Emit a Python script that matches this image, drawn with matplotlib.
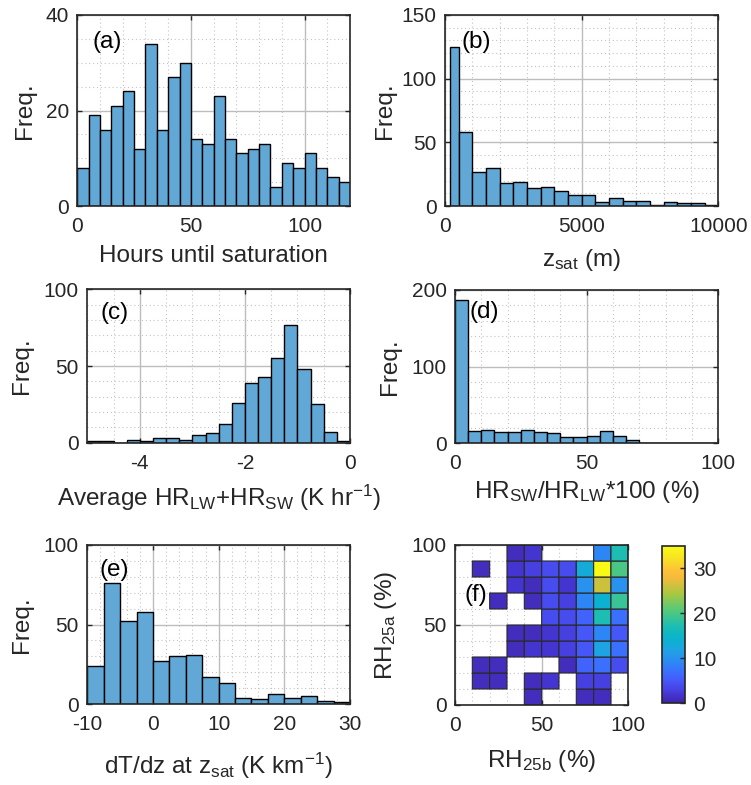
import numpy as np
import matplotlib
matplotlib.use("Agg")
import matplotlib.pyplot as plt
from matplotlib.colors import LinearSegmentedColormap
from matplotlib.ticker import MultipleLocator

plt.rcParams['font.family'] = ['Liberation Sans', 'DejaVu Sans']
plt.rcParams['mathtext.fontset'] = 'custom'
plt.rcParams['mathtext.rm'] = 'Liberation Sans'
plt.rcParams['mathtext.it'] = 'Liberation Sans:italic'
plt.rcParams['mathtext.bf'] = 'Liberation Sans:bold'
plt.rcParams['axes.unicode_minus'] = False

# ---------------- data ----------------
# (a) hours until saturation
hours_edges = np.arange(0, 121, 5)
hours_counts = [8, 19, 16, 21, 24, 12, 34, 16, 27, 30, 14, 13,
                23, 14, 11, 12, 13, 4, 9, 8, 11, 8, 6, 5]

# (b) saturation height (m)
zsat_edges = [200] + list(range(500, 10001, 500))
zsat_counts = [125, 58, 27, 30, 18, 19, 14, 15, 12, 9, 9, 3,
               6, 4, 4, 1, 3, 2, 2, 1]

# (c) average radiative heating rate (K/hr)
hr_edges = np.arange(-5, 0.001, 0.25)
hr_counts = [1, 1, 0, 2, 1, 3, 3, 2, 5, 6, 12, 26, 39, 43, 55,
             77, 48, 25, 7, 1]

# (d) SW / LW heating ratio (%)
ratio_edges = np.arange(0, 101, 5)
ratio_counts = [187, 16, 17, 15, 15, 17, 15, 14, 8, 8, 10, 16,
                10, 4, 1, 1, 1, 1, 1, 1]

# (e) lapse rate at saturation height (K/km)
dtdz_edges = np.arange(-10, 30.001, 2.5)
dtdz_counts = [24, 76, 52, 58, 27, 30, 31, 17, 13, 4, 3, 6, 4, 5, 2, 1]

# (f) joint RH histogram: rows = RH_25a bins (0-10 ... 90-100), cols = RH_25b bins
rh_edges = np.arange(0, 101, 10)
rh_counts = np.array([
    [0, 0, 0, 0, 1, 0, 0, 1, 1, 0],
    [0, 1, 1, 0, 1, 2, 0, 3, 3, 0],
    [0, 1, 1, 0, 0, 0, 1, 6, 7, 4],
    [0, 0, 0, 1, 2, 2, 3, 5, 12, 7],
    [0, 0, 0, 1, 1, 2, 3, 5, 9, 5],
    [0, 0, 0, 0, 0, 4, 4, 6, 17, 7],
    [0, 0, 1, 0, 1, 4, 3, 9, 14, 19],
    [0, 0, 0, 2, 1, 4, 2, 10, 26, 10],
    [0, 1, 0, 2, 3, 4, 4, 13, 35, 20],
    [0, 0, 0, 1, 2, 0, 0, 0, 9, 17],
], dtype=float)

# MATLAB-style parula colormap
parula_pts = [
    (0.00, (0.2422, 0.1504, 0.6603)),
    (0.05, (0.2691, 0.2011, 0.8049)),
    (0.10, (0.2803, 0.2782, 0.9221)),
    (0.15, (0.2720, 0.3570, 0.9800)),
    (0.20, (0.2305, 0.4388, 0.9976)),
    (0.25, (0.1801, 0.5177, 0.9650)),
    (0.30, (0.1540, 0.5902, 0.9218)),
    (0.35, (0.1085, 0.6546, 0.8767)),
    (0.40, (0.0487, 0.6936, 0.8185)),
    (0.45, (0.0600, 0.7228, 0.7565)),
    (0.50, (0.1340, 0.7472, 0.6805)),
    (0.60, (0.3500, 0.7900, 0.4600)),
    (0.70, (0.6700, 0.7800, 0.2500)),
    (0.80, (0.9600, 0.7300, 0.2300)),
    (0.85, (0.9950, 0.7600, 0.2200)),
    (0.90, (0.9700, 0.8500, 0.1600)),
    (1.00, (0.9769, 0.9839, 0.0805)),
]
parula = LinearSegmentedColormap.from_list('parula', parula_pts)

BAR = '#62a8d6'
TXT = '#262626'
W, H = 751, 785
TICK_FS = 15
LAB_FS = 17.5


def place(l, t, r, b):
    return [l / W, 1 - b / H, (r - l) / W, (b - t) / H]


def style(ax, xmaj, xmin, ymaj, ymin):
    ax.set_axisbelow(True)
    ax.xaxis.set_major_locator(MultipleLocator(xmaj))
    ax.xaxis.set_minor_locator(MultipleLocator(xmin))
    ax.yaxis.set_major_locator(MultipleLocator(ymaj))
    ax.yaxis.set_minor_locator(MultipleLocator(ymin))
    ax.grid(True, which='major', color='#bdbdbd', lw=1.0, ls='-')
    ax.grid(True, which='minor', color='#c4c4c4', lw=0.8, ls=(0, (1, 2.5)))
    ax.tick_params(which='major', direction='in', length=3.5, width=1.0,
                   top=True, right=True, labelsize=TICK_FS, colors=TXT)
    ax.tick_params(axis='x', which='major', pad=8)
    ax.tick_params(axis='y', which='major', pad=6)
    ax.tick_params(which='minor', length=0)
    for s in ax.spines.values():
        s.set_color(TXT)
        s.set_linewidth(1.2)


def labels(ax, xl, yl, xy, yx, letter, lx, ly):
    ax.set_xlabel(xl, fontsize=LAB_FS, color=TXT)
    ax.set_ylabel(yl, fontsize=LAB_FS, color=TXT)
    ax.xaxis.set_label_coords(0.5, xy)
    ax.yaxis.set_label_coords(yx, 0.5)
    ax.xaxis.label.set_va('center')
    ax.yaxis.label.set_va('center')
    ax.text(lx, ly, letter, transform=ax.transAxes, fontsize=LAB_FS,
            ha='left', va='center', color='black')


def hist(ax, edges, counts):
    edges = np.asarray(edges, dtype=float)
    ax.bar(edges[:-1], counts, width=np.diff(edges), align='edge',
           color=BAR, edgecolor='black', linewidth=1.0, zorder=2)


fig = plt.figure(figsize=(W / 100, H / 100), dpi=100)

# (a)
ax = fig.add_axes(place(77.3, 15, 350, 206))
hist(ax, hours_edges, hours_counts)
ax.set_xlim(0, 120)
ax.set_ylim(0, 40)
style(ax, 50, 10, 20, 5)
labels(ax, 'Hours until saturation', 'Freq.', -0.26, -0.19, '(a)', 0.055, 0.86)

# (b)
ax = fig.add_axes(place(445, 15, 718.3, 206))
hist(ax, zsat_edges, zsat_counts)
ax.set_xlim(0, 10000)
ax.set_ylim(0, 150)
style(ax, 5000, 1000, 50, 10)
labels(ax, r'z$_{\mathregular{sat}}$ (m)', 'Freq.', -0.285, -0.22, '(b)', 0.06, 0.857)

# (c)
ax = fig.add_axes(place(87.3, 289.3, 350, 442.7))
hist(ax, hr_edges, hr_counts)
ax.set_xlim(-5, 0)
ax.set_ylim(0, 100)
style(ax, 2, 0.5, 50, 10)
labels(ax, r'Average HR$_{\mathregular{LW}}$+HR$_{\mathregular{SW}}$ (K hr$^{\mathregular{-1}}$)',
       'Freq.', -0.36, -0.25, '(c)', 0.05, 0.845)

# (d)
ax = fig.add_axes(place(455, 290, 718.3, 443.3))
hist(ax, ratio_edges, ratio_counts)
ax.set_xlim(0, 100)
ax.set_ylim(0, 200)
style(ax, 50, 10, 100, 20)
labels(ax, r'HR$_{\mathregular{SW}}$/HR$_{\mathregular{LW}}$*100 (%)',
       'Freq.', -0.32, -0.247, '(d)', 0.055, 0.858)

# (e)
ax = fig.add_axes(place(87.3, 545, 350, 704))
hist(ax, dtdz_edges, dtdz_counts)
ax.set_xlim(-10, 30)
ax.set_ylim(0, 100)
style(ax, 10, 2, 50, 10)
labels(ax, r'dT/dz at z$_{\mathregular{sat}}$ (K km$^{\mathregular{-1}}$)',
       'Freq.', -0.39, -0.25, '(e)', 0.045, 0.843)

# (f)
ax = fig.add_axes(place(455, 545, 628.3, 705))
ax.set_xlim(0, 100)
ax.set_ylim(0, 100)
style(ax, 50, 10, 50, 10)
masked = np.ma.masked_where(rh_counts <= 0, rh_counts)
mesh = ax.pcolor(rh_edges, rh_edges, masked, cmap=parula, vmin=0, vmax=35,
                 edgecolors='#2a2a2a', linewidth=0.8, zorder=2)
labels(ax, r'RH$_{\mathregular{25b}}$ (%)', r'RH$_{\mathregular{25a}}$ (%)',
       -0.35, -0.40, '(f)', 0.055, 0.69)

cax = fig.add_axes(place(661.7, 546, 685, 703.3))
cb = fig.colorbar(mesh, cax=cax, ticks=[0, 10, 20, 30])
cb.outline.set_edgecolor(TXT)
cb.outline.set_linewidth(1.2)
cax.tick_params(direction='in', length=3.5, width=1.0, labelsize=TICK_FS,
                colors=TXT, pad=6)

fig.savefig('out.png', dpi=100)
